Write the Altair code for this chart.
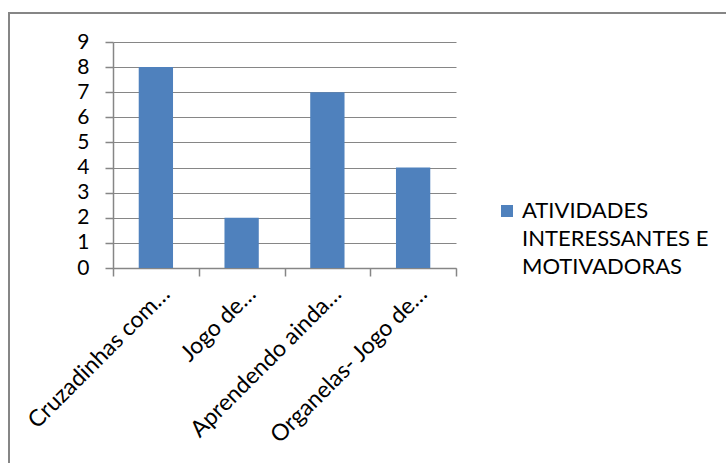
import altair as alt
import pandas as pd

categories = ["Cruzadinhas com…", "Jogo de…", "Aprendendo ainda…", "Organelas- Jogo de…"]
values = [8, 2, 7, 4]
series_name = "ATIVIDADES INTERESSANTES E MOTIVADORAS"
legend_lines = ["ATIVIDADES", "INTERESSANTES E", "MOTIVADORAS"]
y_ticks = list(range(0, 10))

df = pd.DataFrame({"categoria": categories, "valor": values, "serie": [series_name] * len(values)})

FONT = "Lato"
GRAY = "#868686"
BAR = "#4f81bd"

label_expr = "[" + ",".join("'" + s + "'" for s in legend_lines) + "]"

bars = alt.Chart(df).mark_bar(width=alt.RelativeBandSize(0.4)).encode(
    x=alt.X(
        "categoria:N", sort=categories, title=None,
        scale=alt.Scale(paddingInner=0, paddingOuter=0),
        axis=alt.Axis(tickBand="extent", labelAngle=-45, labelAlign="right",
                      labelBaseline="middle", tickSize=8, labelPadding=14, labelOffset=10,
                      labelFontSize=23, labelLimit=300, grid=False),
    ),
    y=alt.Y(
        "valor:Q", title=None,
        scale=alt.Scale(domain=[0, 9], nice=False),
        axis=alt.Axis(values=y_ticks, tickSize=8, labelPadding=16, labelFontSize=21,
                      grid=True, gridColor=GRAY, gridWidth=1),
    ),
    color=alt.Color(
        "serie:N", title=None, scale=alt.Scale(range=[BAR]),
        legend=alt.Legend(orient="none", legendX=383, legendY=158, symbolType="square",
                          symbolSize=144, symbolStrokeWidth=0, labelFontSize=22,
                          labelOffset=4, labelExpr=label_expr, padding=0, labelLimit=400),
    ),
)

border = alt.Chart(pd.DataFrame({"a": [0]})).mark_rect(
    fillOpacity=0, stroke=GRAY, strokeWidth=2
).encode(x=alt.value(-104), x2=alt.value(640), y=alt.value(-29), y2=alt.value(460))

chart = alt.layer(border, bars).properties(
    width=343, height=226,
    autosize=alt.AutoSizeParams(type="none"),
    padding={"left": 113, "top": 42, "right": 270, "bottom": 195},
).configure(
    style={"guide-label": {"lineHeight": 28}}
).configure_view(stroke=None).configure_axis(
    domainColor=GRAY, tickColor=GRAY, labelColor="black", labelFont=FONT, domainWidth=1.5, tickWidth=1.5
).configure_legend(labelFont=FONT, labelColor="black")

chart.save("out.html", embed_options={"renderer": "svg", "actions": False})
